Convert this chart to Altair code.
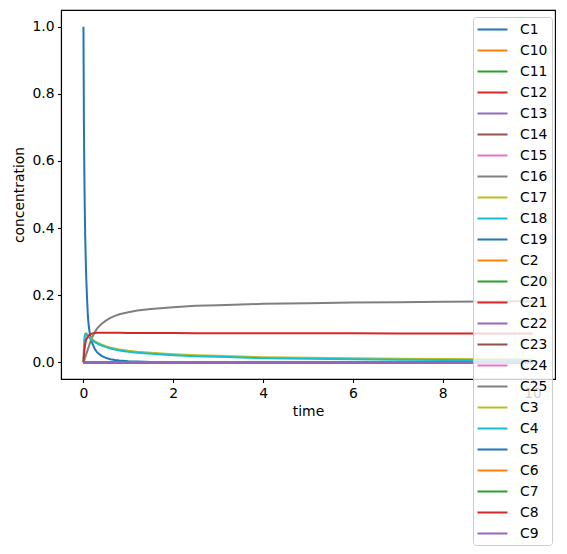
import altair as alt
import pandas as pd

time = [0, 0.01, 0.02, 0.03, 0.04, 0.05, 0.06, 0.08, 0.1, 0.12, 0.15, 0.2, 0.25, 0.3,
        0.4, 0.5, 0.6, 0.7, 0.8, 1.0, 1.2, 1.5, 2.0, 2.5, 3.0, 4.0, 5.0, 6.0, 7.0, 8.0, 9.0, 10.0]

c1 = [1.0, 0.72, 0.56, 0.45, 0.37, 0.31, 0.26, 0.19, 0.135, 0.105, 0.078, 0.055, 0.040, 0.030,
      0.019, 0.013, 0.009, 0.0065, 0.005, 0.003, 0.002, 0.001, 0.0004, 0.0002, 0.0001,
      0, 0, 0, 0, 0, 0, 0]
c3 = [0, 0.033, 0.06, 0.077, 0.084, 0.086, 0.086, 0.084, 0.080, 0.077, 0.073, 0.068, 0.063, 0.059,
      0.053, 0.048, 0.044, 0.041, 0.038, 0.034, 0.031, 0.028, 0.024, 0.021, 0.019, 0.015, 0.013,
      0.0115, 0.0104, 0.0096, 0.0089, 0.0084]
c4 = [0, 0.035, 0.062, 0.078, 0.084, 0.085, 0.084, 0.081, 0.077, 0.074, 0.070, 0.065, 0.060, 0.056,
      0.050, 0.045, 0.041, 0.038, 0.035, 0.031, 0.028, 0.025, 0.021, 0.018, 0.016, 0.012, 0.010,
      0.0087, 0.0077, 0.0069, 0.0063, 0.0058]
c8 = [0, 0.018, 0.034, 0.046, 0.055, 0.062, 0.067, 0.073, 0.077, 0.080, 0.083, 0.086, 0.087, 0.088,
      0.088, 0.088, 0.088, 0.0878, 0.0876, 0.0874, 0.0872, 0.087, 0.0868, 0.0866, 0.0865, 0.0863,
      0.0862, 0.0861, 0.086, 0.086, 0.0859, 0.0858]
c25 = [0, 0.003, 0.007, 0.011, 0.015, 0.019, 0.023, 0.031, 0.039, 0.047, 0.059, 0.076, 0.089, 0.100,
       0.114, 0.124, 0.132, 0.138, 0.143, 0.149, 0.154, 0.159, 0.164, 0.168, 0.170, 0.174, 0.176,
       0.178, 0.179, 0.180, 0.181, 0.182]
zero = [0.0] * len(time)

names = ["C1", "C10", "C11", "C12", "C13", "C14", "C15", "C16", "C17", "C18", "C19", "C2",
         "C20", "C21", "C22", "C23", "C24", "C25", "C3", "C4", "C5", "C6", "C7", "C8", "C9"]
series = {"C1": c1, "C3": c3, "C4": c4, "C8": c8, "C25": c25}

tab10 = ["#1f77b4", "#ff7f0e", "#2ca02c", "#d62728", "#9467bd",
         "#8c564b", "#e377c2", "#7f7f7f", "#bcbd22", "#17becf"]
colors = [tab10[i % 10] for i in range(len(names))]

rows = []
for k, n in enumerate(names):
    vals = series.get(n, zero)
    for t, v in zip(time, vals):
        rows.append({"time": t, "concentration": v, "species": n, "order": k})
df = pd.DataFrame(rows)

FONT = "DejaVu Sans"
FS = 13.9

chart = alt.Chart(df).mark_line(strokeWidth=2, clip=True).encode(
    x=alt.X("time:Q", scale=alt.Scale(domain=[-0.5, 10.5], nice=False, zero=False),
            axis=alt.Axis(values=[0, 2, 4, 6, 8, 10], format="d", title="time")),
    y=alt.Y("concentration:Q", scale=alt.Scale(domain=[-0.05, 1.05], nice=False, zero=False),
            axis=alt.Axis(values=[0, 0.2, 0.4, 0.6, 0.8, 1.0], format=".1f", title="concentration")),
    color=alt.Color("species:N", sort=names,
                    scale=alt.Scale(domain=names, range=colors),
                    legend=alt.Legend(title=None, orient="none", legendX=412, legendY=7,
                                      symbolType="M-2,0H2", symbolSize=225, symbolStrokeWidth=2,
                                      symbolOffset=7,
                                      labelFontSize=FS, labelFont=FONT, labelColor="black",
                                      rowPadding=5, padding=4, labelOffset=19,
                                      strokeColor="#cccccc", fillColor="rgba(255,255,255,0.8)",
                                      cornerRadius=3, labelLimit=200)),
    order=alt.Order("order:Q"),
    detail="species:N",
).properties(
    width=494, height=369,
    autosize=alt.AutoSizeParams(type="none"),
    padding={"left": 53, "top": 2, "right": 2, "bottom": 167},
).configure(font=FONT).configure_view(
    stroke="black", strokeWidth=1.1
).configure_axis(
    grid=False, domainColor="black", domainWidth=1.1, tickColor="black", tickWidth=1.1,
    tickSize=3.5, labelPadding=3.5, labelFontSize=FS, titleFontSize=FS, labelFont=FONT,
    titleFont=FONT, labelColor="black", titleColor="black", titleFontWeight="normal",
    titlePadding=5
)

chart.save("out.html", embed_options={"renderer": "svg", "actions": False})
